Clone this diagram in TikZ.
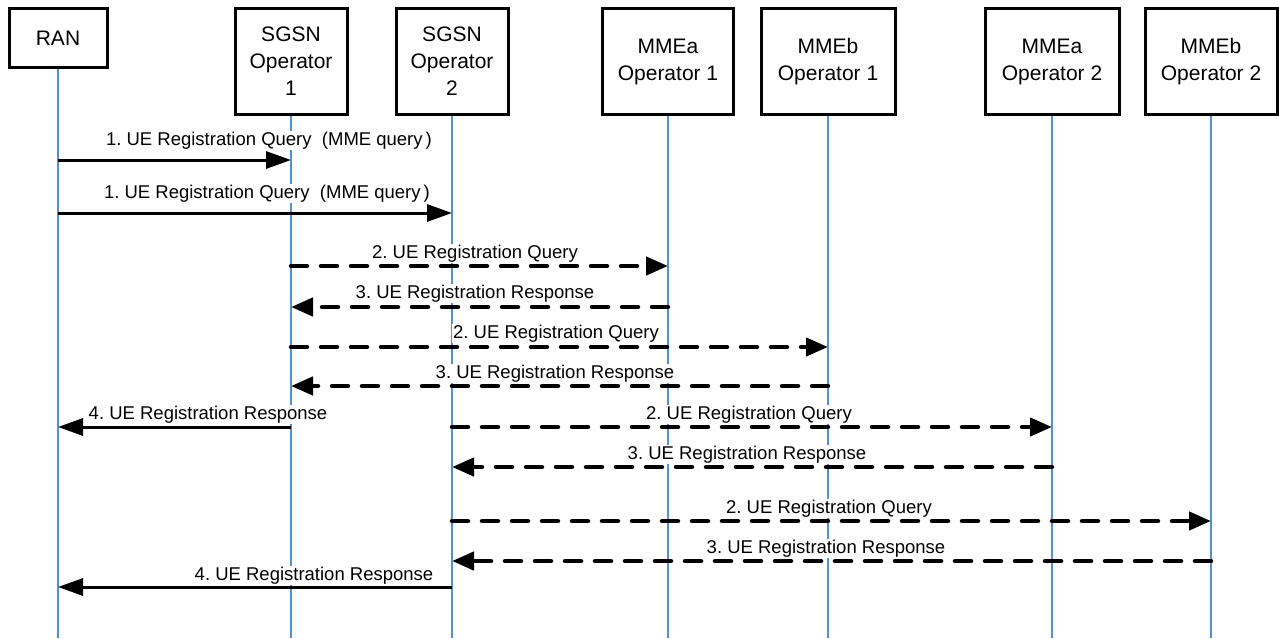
\documentclass[tikz,border=0pt]{standalone}
\usepackage{fontspec}
\setmainfont{Liberation Sans}
\usetikzlibrary{arrows.meta}
\definecolor{lifeblue}{RGB}{85,145,210}
\begin{document}
\frenchspacing
\begin{tikzpicture}[x=1pt,y=-1pt,
  ent/.style={draw, line width=3pt, align=center, inner sep=0pt,
    font=\fontsize{21}{27}\selectfont},
  life/.style={draw=lifeblue, line width=2pt},
  msg/.style={line width=3pt, -{Triangle[length=25pt,width=17pt]}},
  dmsg/.style={line width=4.5pt, dash pattern=on 16pt off 14pt, line cap=round,
    -{Triangle[length=22pt,width=18pt]}},
  lbl/.style={fill=white, inner sep=1pt, anchor=base,
    font=\fontsize{18.5}{22}\selectfont}]
\useasboundingbox (0,0) rectangle (1279,638);
\fill[white] (0,0) rectangle (1279,638);

% entities
\node[ent, minimum width=98pt, minimum height=59pt] (ran) at (58,38) {RAN};
\node[ent, minimum width=112pt, minimum height=106pt] (s1) at (291,61.5) {SGSN\\Operator\\1};
\node[ent, minimum width=112pt, minimum height=106pt] (s2) at (452,61.5) {SGSN\\Operator\\2};
\node[ent, minimum width=131pt, minimum height=106pt] (ma1) at (668,61.5) {MMEa\\Operator 1};
\node[ent, minimum width=134pt, minimum height=106pt] (mb1) at (828,61.5) {MMEb\\Operator 1};
\node[ent, minimum width=134pt, minimum height=106pt] (ma2) at (1052,61.5) {MMEa\\Operator 2};
\node[ent, minimum width=132pt, minimum height=106pt] (mb2) at (1211,61.5) {MMEb\\Operator 2};

% bottom reference and message levels
\coordinate (bot) at (0,638);
\coordinate (m1) at (0,160);
\coordinate (m2) at (0,213);
\coordinate (m3) at (0,266);
\coordinate (m4) at (0,307);
\coordinate (m5) at (0,347);
\coordinate (m6) at (0,386);
\coordinate (m7) at (0,427);
\coordinate (m9) at (0,467);
\coordinate (m10) at (0,521);
\coordinate (m11) at (0,561);
\coordinate (m12) at (0,587);

% lifelines
\foreach \n in {ran,s1,s2,ma1,mb1,ma2,mb2}
  \draw[life] (\n.south) -- (\n.south |- bot);

% labels
\node[lbl] (l1) at (269,145) {1. UE Registration Query\ \ (MME query\,)};
\node[lbl] (l2) at (267,198) {1. UE Registration Query\ \ (MME query\,)};
\node[lbl] (l3) at (475,258) {2. UE Registration Query};
\node[lbl] (l4) at (475,298) {3. UE Registration Response};
\node[lbl] (l5) at (556,338) {2. UE Registration Query};
\node[lbl] (l6) at (555,378) {3. UE Registration Response};
\node[lbl] (l7) at (208,419) {4. UE Registration Response};
\node[lbl] (l8) at (749,419) {2. UE Registration Query};
\node[lbl] (l9) at (747,459) {3. UE Registration Response};
\node[lbl] (l10) at (829,513) {2. UE Registration Query};
\node[lbl] (l11) at (826,553) {3. UE Registration Response};
\node[lbl] (l12) at (314,580) {4. UE Registration Response};

% messages
\draw[msg] (ran |- m1) -- (s1 |- m1);
\draw[msg] (ran |- m2) -- (s2 |- m2);
\draw[dmsg] (s1 |- m3) -- (ma1 |- m3);
\draw[dmsg] (ma1 |- m4) -- (s1 |- m4);
\draw[dmsg] (s1 |- m5) -- (mb1 |- m5);
\draw[dmsg] (mb1 |- m6) -- (s1 |- m6);
\draw[msg] (s1 |- m7) -- (ran |- m7);
\draw[dmsg] (s2 |- m7) -- (ma2 |- m7);
\draw[dmsg] (ma2 |- m9) -- (s2 |- m9);
\draw[dmsg] (s2 |- m10) -- (mb2 |- m10);
\draw[dmsg] (mb2 |- m11) -- (s2 |- m11);
\draw[msg] (s2 |- m12) -- (ran |- m12);
\end{tikzpicture}
\end{document}
